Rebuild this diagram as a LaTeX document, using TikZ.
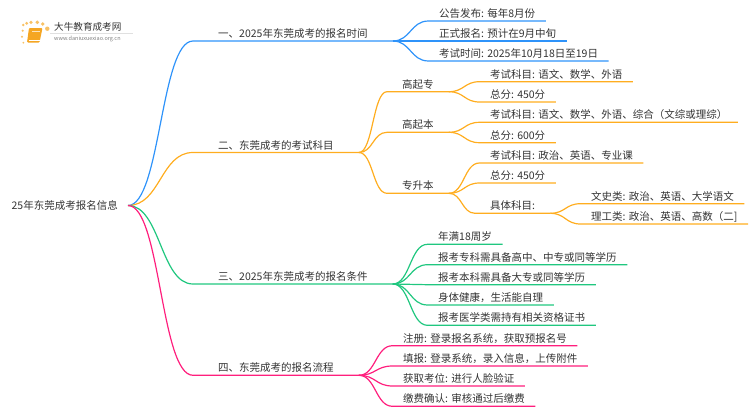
\documentclass[tikz,border=0pt]{standalone}
\usepackage{fontspec}
\usepackage{xcolor}
\usetikzlibrary{calc}
\setmainfont{Noto Sans CJK SC}
\definecolor{lineblue}{HTML}{2E93FA}
\definecolor{lineorange}{HTML}{FFAD1F}
\definecolor{linegreen}{HTML}{20C77F}
\definecolor{linepink}{HTML}{FF1F7D}
\definecolor{inkgray}{HTML}{333333}
\definecolor{logoorange}{HTML}{F5A623}
\tikzset{
  txt/.style={anchor=south west,text=inkgray,font=\fontsize{10.5pt}{12pt}\selectfont,
    text height=8pt,text depth=2pt,inner ysep=1.2pt},
  branch/.style={txt,inner xsep=25pt},
  leaf/.style={txt,inner xsep=10.5pt},
  mid/.style={txt,inner xsep=15pt},
  link/.style={line width=1.2pt,to path={(\tikztostart)
    .. controls ($(\tikztostart)!.5!(\tikztotarget |- \tikztostart)$)
    and ($(\tikztotarget)!.5!(\tikztostart |- \tikztotarget)$) .. (\tikztotarget)}},
}
\begin{document}
\begin{tikzpicture}[x=1pt,y=-1pt]
    \useasboundingbox (0,0) rectangle (750,410);
    % logo
    \foreach \dotx/\doty/\dotr in {23.3/25/1.4,26.7/23.3/1.6,31/22.3/1.8,37.3/22.3/1.9,42.7/24/1.9,47.3/28.7/2.2,22.7/30.7/1.2,22/36.7/1.1,23.3/42.7/1}
      \fill[logoorange!70] (\dotx,\doty) circle (\dotr);
    \fill[logoorange,rounded corners=1pt] (29,28) -- (42.5,28) -- (39.5,42.5) -- (27,42.5) -- cycle;
    \draw[white,line width=0.5pt] (28.5,40) -- (39.5,40);
    \draw[white!70!logoorange,line width=0.4pt] (32,31) -- (40,31);
    \node[anchor=west,inner sep=0pt,text=inkgray,font=\fontsize{9.6pt}{10pt}\selectfont] (L) at (54,27) {大牛教育成考网};
    \node[anchor=west,inner sep=0pt,text=gray,font=\fontsize{5.5pt}{6pt}\selectfont] (U) at (54,38.5) {www.daniuxuexiao.org.cn};
    \draw[black!12,line width=0.5pt] (50,33) -- (133,33);
    % first two levels
    \node[anchor=east,text=inkgray,font=\fontsize{10.5pt}{12pt}\selectfont,inner xsep=10pt,inner ysep=2pt] (R) at (128,205.5) {25年东莞成考报名信息};
    \node[branch] (A) at (193,41) {一、2025年东莞成考的报名时间};
    \node[branch] (B) at (193,152.5) {二、东莞成考的考试科目};
    \node[branch] (C) at (193,284) {三、2025年东莞成考的报名条件};
    \node[branch] (D) at (193,375.3) {四、东莞成考的报名流程};
    % first branch
    \node[leaf] (A1) at (428.5,21) {公告发布: 每年8月份};
    \node[leaf] (A2) at (428.5,41) {正式报名: 预计在9月中旬};
    \node[leaf] (A3) at (428.5,61) {考试时间: 2025年10月18日至19日};
    % second branch
    \node[mid] (B1) at (387,91.7) {高起专};
    \node[mid] (B2) at (387,132.3) {高起本};
    \node[mid] (B3) at (387,193.3) {专升本};
    \node[leaf] (B11) at (479.5,81.7) {考试科目: 语文、数学、外语};
    \node[leaf] (B12) at (479.5,102) {总分: 450分};
    \node[leaf] (B21) at (479.5,122.3) {考试科目: 语文、数学、外语、综合（文综或理综）};
    \node[leaf] (B22) at (479.5,142.7) {总分: 600分};
    \node[leaf] (B31) at (479.5,163) {考试科目: 政治、英语、专业课};
    \node[leaf] (B32) at (479.5,183) {总分: 450分};
    \node[mid] (B33) at (475,213.3) {具体科目:};
    \node[leaf] (B331) at (580.5,203.7) {文史类: 政治、英语、大学语文};
    \node[leaf] (B332) at (580.5,224) {理工类: 政治、英语、高数（二]};
    % third branch
    \node[leaf] (C1) at (427.5,244.3) {年满18周岁};
    \node[leaf] (C2) at (427.5,264.7) {报考专科需具备高中、中专或同等学历};
    \node[leaf] (C3) at (427.5,284.7) {报考本科需具备大专或同等学历};
    \node[leaf] (C4) at (427.5,305) {身体健康，生活能自理};
    \node[leaf] (C5) at (427.5,325.3) {报考医学类需持有相关资格证书};
    % fourth branch
    \node[leaf] (D1) at (392.5,345.7) {注册: 登录报名系统，获取预报名号};
    \node[leaf] (D2) at (392.5,366) {填报: 登录系统，录入信息，上传附件};
    \node[leaf] (D3) at (392.5,386) {获取考位: 进行人脸验证};
    \node[leaf] (D4) at (392.5,406.3) {缴费确认: 审核通过后缴费};
    % connectors
    \draw[link,lineblue] (R.east) to (A.south west) -- (A.south east);
    \draw[link,lineorange] (R.east) to (B.south west) -- (B.south east);
    \draw[link,linegreen] (R.east) to (C.south west) -- (C.south east);
    \draw[link,linepink] (R.east) to (D.south west) -- (D.south east);
    \foreach \kid in {A1,A2,A3}
      \draw[link,lineblue] (A.south east) to (\kid.south west) -- (\kid.south east);
    \foreach \kid in {B1,B2,B3}
      \draw[link,lineorange] (B.south east) to (\kid.south west) -- (\kid.south east);
    \foreach \kid in {B11,B12}
      \draw[link,lineorange] (B1.south east) to (\kid.south west) -- (\kid.south east);
    \foreach \kid in {B21,B22}
      \draw[link,lineorange] (B2.south east) to (\kid.south west) -- (\kid.south east);
    \foreach \kid in {B31,B32,B33}
      \draw[link,lineorange] (B3.south east) to (\kid.south west) -- (\kid.south east);
    \foreach \kid in {B331,B332}
      \draw[link,lineorange] (B33.south east) to (\kid.south west) -- (\kid.south east);
    \foreach \kid in {C1,C2,C3,C4,C5}
      \draw[link,linegreen] (C.south east) to (\kid.south west) -- (\kid.south east);
    \foreach \kid in {D1,D2,D3,D4}
      \draw[link,linepink] (D.south east) to (\kid.south west) -- (\kid.south east);
  \end{tikzpicture}
\end{document}
